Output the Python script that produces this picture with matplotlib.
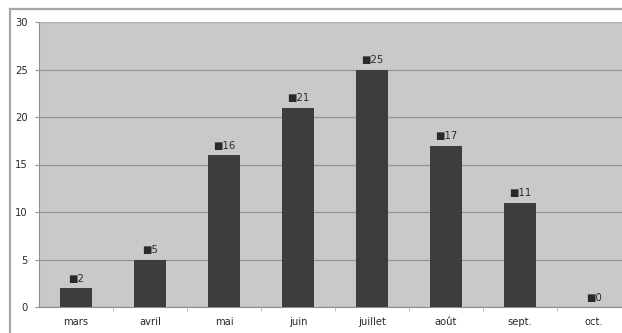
import matplotlib
matplotlib.use("Agg")
import matplotlib.pyplot as plt
from matplotlib.lines import Line2D

months = ["mars", "avril", "mai", "juin", "juillet", "août", "sept.", "oct."]
values = [2, 5, 16, 21, 25, 17, 11, 0]
yticks = [0, 5, 10, 15, 20, 25, 30]

W, H = 622, 333
fig = plt.figure(figsize=(W / 100, H / 100), dpi=100)
fig.patch.set_facecolor("white")

# outer chart border (cropped on right/bottom)
fig.add_artist(Line2D([10 / W, 10 / W], [0, 1 - 9 / H], transform=fig.transFigure,
                      color="#a8a8a8", lw=1.6))
fig.add_artist(Line2D([10 / W, 1], [1 - 9 / H, 1 - 9 / H], transform=fig.transFigure,
                      color="#a8a8a8", lw=1.6))

left, right, top, bottom = 39, 631, 22, 307
ax = fig.add_axes([left / W, (H - bottom) / H, (right - left) / W, (bottom - top) / H])
ax.set_facecolor("#c9c9c9")

x = list(range(len(months)))
ax.bar(x, values, width=0.42, color="#3d3d3d", zorder=3, linewidth=0)

ax.set_xlim(-0.5, len(months) - 0.5)
ax.set_ylim(0, 30)
ax.set_yticks(yticks)
ax.set_yticklabels([str(v) for v in yticks])
ax.yaxis.grid(True, color="#959595", lw=0.9, zorder=1)
ax.set_axisbelow(True)

ax.set_xticks(x)
ax.set_xticklabels(months)
ax.set_xticks([i + 0.5 for i in range(len(months) - 1)], minor=True)
ax.tick_params(axis="x", which="major", length=0, pad=7, labelsize=7.2, labelcolor="#2a2a2a")
ax.tick_params(axis="x", which="minor", length=3, color="#b0b0b0", direction="out")
ax.tick_params(axis="y", length=3, color="#909090", pad=5, labelsize=7.2, labelcolor="#2a2a2a")

for s in ["top", "right"]:
    ax.spines[s].set_visible(False)
ax.spines["left"].set_color("#909090")
ax.spines["bottom"].set_color("#909090")
ax.spines["left"].set_linewidth(0.8)
ax.spines["bottom"].set_linewidth(0.8)
ax.axhline(30, color="#b5b5b5", lw=1.0, zorder=2)

for xi, v in zip(x, values):
    ax.annotate("\u25A0" + str(v), (xi, v), xytext=(0, 3), textcoords="offset points",
                ha="center", va="bottom", fontsize=7.2, color="#2a2a2a")

fig.savefig("out.png", dpi=100, facecolor="white")
